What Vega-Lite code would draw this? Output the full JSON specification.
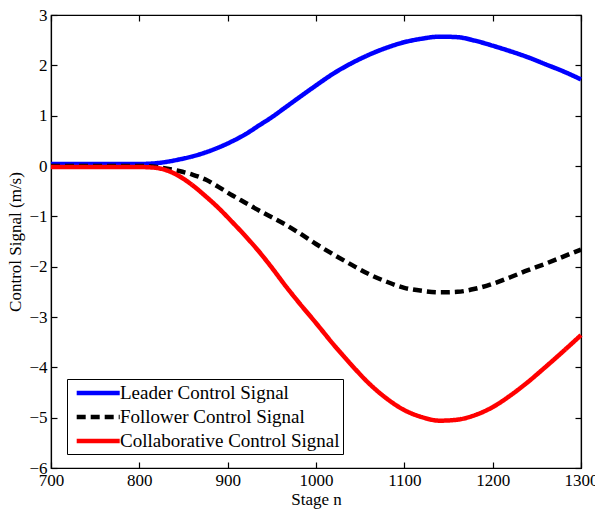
{
  "$schema": "https://vega.github.io/schema/vega-lite/v6.json",
  "width": 530,
  "height": 453,
  "autosize": {"type": "none"},
  "padding": {"left": 51, "top": 15, "right": 14, "bottom": 42},
  "background": "white",
  "config": {
    "font": "Liberation Serif",
    "view": {"stroke": "black", "strokeWidth": 1.2},
    "axis": {"grid": false, "labelFontSize": 17, "titleFontSize": 17, "labelColor": "black", "titleColor": "black", "tickColor": "black", "domainColor": "black", "titleFontWeight": "normal", "domainWidth": 1.2, "tickWidth": 1.2}
  },
  "data": {"values": [
    {"stage": 700, "Leader Control Signal": 0.04, "Follower Control Signal": 0.0, "Collaborative Control Signal": -0.02},
    {"stage": 750, "Leader Control Signal": 0.04, "Follower Control Signal": 0.0, "Collaborative Control Signal": -0.02},
    {"stage": 800, "Leader Control Signal": 0.04, "Follower Control Signal": 0.0, "Collaborative Control Signal": -0.02},
    {"stage": 815, "Leader Control Signal": 0.05, "Follower Control Signal": -0.01, "Collaborative Control Signal": -0.03},
    {"stage": 830, "Leader Control Signal": 0.08, "Follower Control Signal": -0.05, "Collaborative Control Signal": -0.08},
    {"stage": 845, "Leader Control Signal": 0.13, "Follower Control Signal": -0.10, "Collaborative Control Signal": -0.20},
    {"stage": 860, "Leader Control Signal": 0.19, "Follower Control Signal": -0.17, "Collaborative Control Signal": -0.38},
    {"stage": 875, "Leader Control Signal": 0.27, "Follower Control Signal": -0.27, "Collaborative Control Signal": -0.60},
    {"stage": 890, "Leader Control Signal": 0.37, "Follower Control Signal": -0.42, "Collaborative Control Signal": -0.84},
    {"stage": 905, "Leader Control Signal": 0.49, "Follower Control Signal": -0.58, "Collaborative Control Signal": -1.11},
    {"stage": 920, "Leader Control Signal": 0.63, "Follower Control Signal": -0.73, "Collaborative Control Signal": -1.39},
    {"stage": 935, "Leader Control Signal": 0.80, "Follower Control Signal": -0.88, "Collaborative Control Signal": -1.69},
    {"stage": 950, "Leader Control Signal": 0.97, "Follower Control Signal": -1.02, "Collaborative Control Signal": -2.02},
    {"stage": 965, "Leader Control Signal": 1.16, "Follower Control Signal": -1.16, "Collaborative Control Signal": -2.37},
    {"stage": 980, "Leader Control Signal": 1.35, "Follower Control Signal": -1.32, "Collaborative Control Signal": -2.70},
    {"stage": 1000, "Leader Control Signal": 1.60, "Follower Control Signal": -1.55, "Collaborative Control Signal": -3.12},
    {"stage": 1020, "Leader Control Signal": 1.84, "Follower Control Signal": -1.76, "Collaborative Control Signal": -3.55},
    {"stage": 1040, "Leader Control Signal": 2.04, "Follower Control Signal": -1.96, "Collaborative Control Signal": -3.95},
    {"stage": 1060, "Leader Control Signal": 2.21, "Follower Control Signal": -2.15, "Collaborative Control Signal": -4.32},
    {"stage": 1080, "Leader Control Signal": 2.35, "Follower Control Signal": -2.30, "Collaborative Control Signal": -4.62},
    {"stage": 1100, "Leader Control Signal": 2.46, "Follower Control Signal": -2.42, "Collaborative Control Signal": -4.85},
    {"stage": 1120, "Leader Control Signal": 2.53, "Follower Control Signal": -2.48, "Collaborative Control Signal": -4.99},
    {"stage": 1140, "Leader Control Signal": 2.57, "Follower Control Signal": -2.51, "Collaborative Control Signal": -5.06},
    {"stage": 1160, "Leader Control Signal": 2.56, "Follower Control Signal": -2.50, "Collaborative Control Signal": -5.04},
    {"stage": 1180, "Leader Control Signal": 2.49, "Follower Control Signal": -2.44, "Collaborative Control Signal": -4.95},
    {"stage": 1200, "Leader Control Signal": 2.39, "Follower Control Signal": -2.34, "Collaborative Control Signal": -4.79},
    {"stage": 1220, "Leader Control Signal": 2.28, "Follower Control Signal": -2.21, "Collaborative Control Signal": -4.56},
    {"stage": 1240, "Leader Control Signal": 2.16, "Follower Control Signal": -2.07, "Collaborative Control Signal": -4.29},
    {"stage": 1260, "Leader Control Signal": 2.02, "Follower Control Signal": -1.94, "Collaborative Control Signal": -3.99},
    {"stage": 1280, "Leader Control Signal": 1.88, "Follower Control Signal": -1.80, "Collaborative Control Signal": -3.68},
    {"stage": 1300, "Leader Control Signal": 1.72, "Follower Control Signal": -1.66, "Collaborative Control Signal": -3.36}
  ]},
  "transform": [
    {"fold": ["Leader Control Signal", "Follower Control Signal", "Collaborative Control Signal"], "as": ["signal", "value"]}
  ],
  "layer": [
    {
      "mark": {"type": "line", "strokeWidth": 4.5, "interpolate": "monotone"},
      "encoding": {
        "x": {"field": "stage", "type": "quantitative", "scale": {"domain": [700, 1300], "nice": false},
              "axis": {"orient": "bottom", "values": [700, 800, 900, 1000, 1100, 1200, 1300], "format": "d", "tickSize": -6, "labelPadding": 10, "title": "Stage n", "titlePadding": 3, "labelFlush": false}},
        "y": {"field": "value", "type": "quantitative", "scale": {"domain": [-6, 3], "nice": false},
              "axis": {"orient": "left", "values": [-6, -5, -4, -3, -2, -1, 0, 1, 2, 3], "tickSize": -6, "labelPadding": 10, "title": "Control Signal (m/s)", "titlePadding": 4}},
        "color": {"field": "signal", "type": "nominal",
                  "scale": {"domain": ["Leader Control Signal", "Follower Control Signal", "Collaborative Control Signal"], "range": ["#0000ff", "#000000", "#ff0000"]},
                  "legend": {"orient": "none", "legendX": 16, "legendY": 364, "title": null, "symbolType": "M-0.5,0H4.5", "symbolSize": 296, "symbolStrokeWidth": 4.5, "labelFont": "Liberation Serif", "labelFontSize": 19, "labelColor": "black", "labelLimit": 0, "strokeColor": "black", "fillColor": "white", "padding": 3, "rowPadding": 3, "labelOffset": 28}},
        "strokeDash": {"field": "signal", "type": "nominal",
                  "scale": {"domain": ["Leader Control Signal", "Follower Control Signal", "Collaborative Control Signal"], "range": [[1, 0], [9, 5], [1, 0]]},
                  "legend": {"orient": "none", "legendX": 16, "legendY": 364, "title": null, "symbolType": "M-0.5,0H4.5", "symbolSize": 296, "symbolStrokeWidth": 4.5, "labelFont": "Liberation Serif", "labelFontSize": 19, "labelColor": "black", "labelLimit": 0, "strokeColor": "black", "fillColor": "white", "padding": 3, "rowPadding": 3, "labelOffset": 28}}
      }
    },
    {
      "mark": {"type": "line", "opacity": 0},
      "encoding": {
        "x": {"field": "stage", "type": "quantitative", "axis": {"orient": "top", "values": [700, 800, 900, 1000, 1100, 1200, 1300], "tickSize": -6, "labels": false, "title": null}},
        "y": {"field": "value", "type": "quantitative", "axis": {"orient": "right", "values": [-6, -5, -4, -3, -2, -1, 0, 1, 2, 3], "tickSize": -6, "labels": false, "title": null}},
        "detail": {"field": "signal", "type": "nominal"}
      }
    }
  ],
  "resolve": {"axis": {"x": "independent", "y": "independent"}}
}
